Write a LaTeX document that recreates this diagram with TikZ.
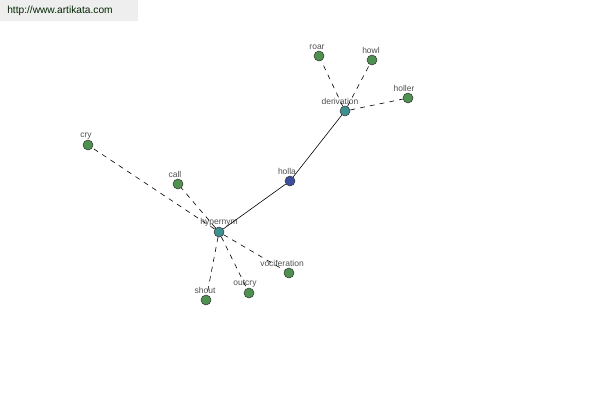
\documentclass[tikz,border=0pt]{standalone}
\usepackage{fontspec}
\setmainfont{Liberation Sans}
\usetikzlibrary{positioning}
\definecolor{cleaf}{HTML}{4E9150}
\definecolor{chub}{HTML}{3E8F8F}
\definecolor{cword}{HTML}{3E4E9E}
\definecolor{cgrey}{HTML}{505050}
\definecolor{cband}{HTML}{EEEEEE}
\tikzset{
  every picture/.style={x=1pt, y=-1pt, line width=0.5pt},
  dot/.style={circle, draw=black!80, fill=#1, minimum size=10pt, inner sep=0pt, line width=0.5pt},
  dot/.default=cleaf,
  lbl/.style={font=\fontsize{8.5}{9}\selectfont, text=cgrey, inner sep=0.5pt},
  rel/.style={draw=black, line width=0.6pt},
  syn/.style={draw=black, line width=0.6pt, dash pattern=on 5pt off 5pt},
}
\begin{document}
\begin{tikzpicture}
  \useasboundingbox (0,0) rectangle (600,400);
  % site banner
  \fill[cband] (0,0) rectangle (138,21);
  \node[anchor=west, font=\fontsize{10.2}{11}\selectfont, text=black!75!green!60!black, inner sep=0pt] (site) at (7,11) {http://www.artikata.com};
  % hubs
  \node[dot=chub, label={[lbl, xshift=-5pt]above:derivation}] (deriv) at (345,111) {};
  \node[dot=cword, label={[lbl, xshift=-3pt]above:holla}] (holla) at (290,181) {};
  \node[dot=chub, label={[lbl]above:hypernym}] (hyper) at (219,232) {};
  % leaves
  \node[dot, label={[lbl, xshift=-2pt]above:roar}] (roar) at (319,56) {};
  \node[dot, label={[lbl, xshift=-1pt]above:howl}] (howl) at (372,60) {};
  \node[dot, label={[lbl, xshift=-4pt]above:holler}] (holler) at (408,98) {};
  \node[dot, label={[lbl, xshift=-2pt]above:cry}] (cry) at (88,145) {};
  \node[dot, label={[lbl, xshift=-3pt]above:call}] (call) at (178,184) {};
  \node[dot, label={[lbl, xshift=-7pt]above:vociferation}] (vocif) at (289,273) {};
  \node[dot, label={[lbl, xshift=-1pt]above:shout}] (shout) at (206,300) {};
  \node[dot, label={[lbl, xshift=-4pt]above:outcry}] (outcry) at (249,293) {};
  % connectors
  \draw[rel] (deriv) -- (holla);
  \draw[rel] (holla) -- (hyper);
  \foreach \w in {roar, howl, holler}
    \draw[syn] (deriv) -- (\w);
  \foreach \w in {cry, call, vocif, shout, outcry}
    \draw[syn] (hyper) -- (\w);
\end{tikzpicture}
\end{document}
